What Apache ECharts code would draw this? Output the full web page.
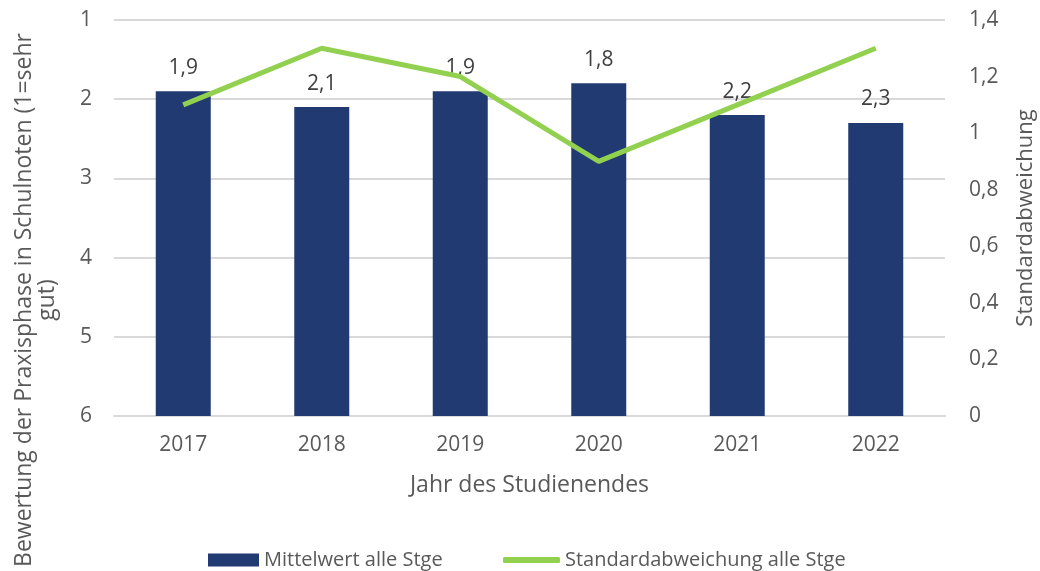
<!DOCTYPE html>
<html>
<head>
<meta charset="utf-8">
<script src="https://cdn.jsdelivr.net/npm/echarts@6/dist/echarts.min.js"></script>
<style>
  html, body { margin: 0; padding: 0; background: #fff; }
  #chart { width: 1040px; height: 571px; }
</style>
</head>
<body>
<div id="chart"></div>
<script>
// Jahre (Kategorien)
var jahre = ['2017', '2018', '2019', '2020', '2021', '2022'];
// Mittelwert (Schulnoten, 1 = sehr gut)
var mittelwert = [1.9, 2.1, 1.9, 1.8, 2.2, 2.3];
// Standardabweichung
var standardabweichung = [1.1, 1.3, 1.2, 0.9, 1.1, 1.3];
// Notenskala links
var notenMin = 1;
var notenMax = 6;

var textFarbe = '#595959';
var fontFam = '"Open Sans", sans-serif';

function komma(v) {
	return String(Math.round(v * 10) / 10).replace('.', ',');
}

// Achse ist umgedreht (1 oben, 6 unten) -> Balken wachsen von 6 nach oben
var balkenDaten = mittelwert.map(function (v) { return notenMax - v; });

var chart = echarts.init(document.getElementById('chart'));

var legendeText = { color: textFarbe, fontSize: 20, fontFamily: fontFam };

var option = {
	animation: false,
	textStyle: { fontFamily: fontFam },
	grid: { left: 114, right: 95, top: 20, bottom: 155, containLabel: false, outerBoundsMode: 'none' },
	legend: [{
		top: 545,
		left: 203,
		itemWidth: 51,
		itemHeight: 13,
		itemGap: 0,
		textStyle: legendeText,
		data: [{ name: 'Mittelwert alle Stge', icon: 'rect' }]
	}, {
		top: 545,
		left: 498,
		itemWidth: 57,
		itemHeight: 6,
		itemGap: 0,
		textStyle: legendeText,
		data: [{ name: 'Standardabweichung alle Stge', icon: 'roundRect' }]
	}],
	xAxis: {
		type: 'category',
		data: jahre,
		name: 'Jahr des Studienendes',
		nameLocation: 'middle',
		nameGap: 58,
		nameTextStyle: { color: textFarbe, fontSize: 23 },
		axisLine: { lineStyle: { color: '#d9d9d9', width: 2 } },
		axisTick: { show: false },
		axisLabel: { color: textFarbe, fontSize: 21, margin: 19 }
	},
	yAxis: [{
		type: 'value',
		min: 0,
		max: notenMax - notenMin,
		interval: 1,
		name: 'Bewertung der Praxisphase in Schulnoten (1=sehr\ngut)',
		nameLocation: 'middle',
		nameRotate: 90,
		nameGap: 55,
		nameTextStyle: { color: textFarbe, fontSize: 23, lineHeight: 23, padding: [0, 164, 0, 0] },
		axisLine: { show: false },
		axisTick: { show: false },
		axisLabel: {
			color: textFarbe, fontSize: 21, margin: 22,
			formatter: function (v) { return String(notenMax - v); }
		},
		splitLine: { lineStyle: { color: '#d9d9d9', width: 2 } }
	}, {
		type: 'value',
		min: 0,
		max: 1.4,
		interval: 0.2,
		name: 'Standardabweichung',
		nameLocation: 'middle',
		nameRotate: 90,
		nameGap: 70,
		nameTextStyle: { color: textFarbe, fontSize: 22 },
		axisLine: { show: false },
		axisTick: { show: false },
		splitLine: { show: false },
		axisLabel: {
			color: textFarbe, fontSize: 21, margin: 24,
			formatter: function (v) { return komma(v); }
		}
	}],
	series: [{
		name: 'Mittelwert alle Stge',
		type: 'bar',
		yAxisIndex: 0,
		barWidth: 55,
		itemStyle: { color: '#213b72' },
		label: {
			show: true,
			position: 'top',
			distance: 13,
			color: '#404040',
			fontSize: 21,
			formatter: function (p) { return komma(mittelwert[p.dataIndex]); }
		},
		data: balkenDaten
	}, {
		name: 'Standardabweichung alle Stge',
		type: 'line',
		yAxisIndex: 1,
		symbol: 'none',
		lineStyle: { color: '#92d050', width: 5 },
		itemStyle: { color: '#92d050' },
		data: standardabweichung
	}]
};

chart.setOption(option);
</script>
</body>
</html>
